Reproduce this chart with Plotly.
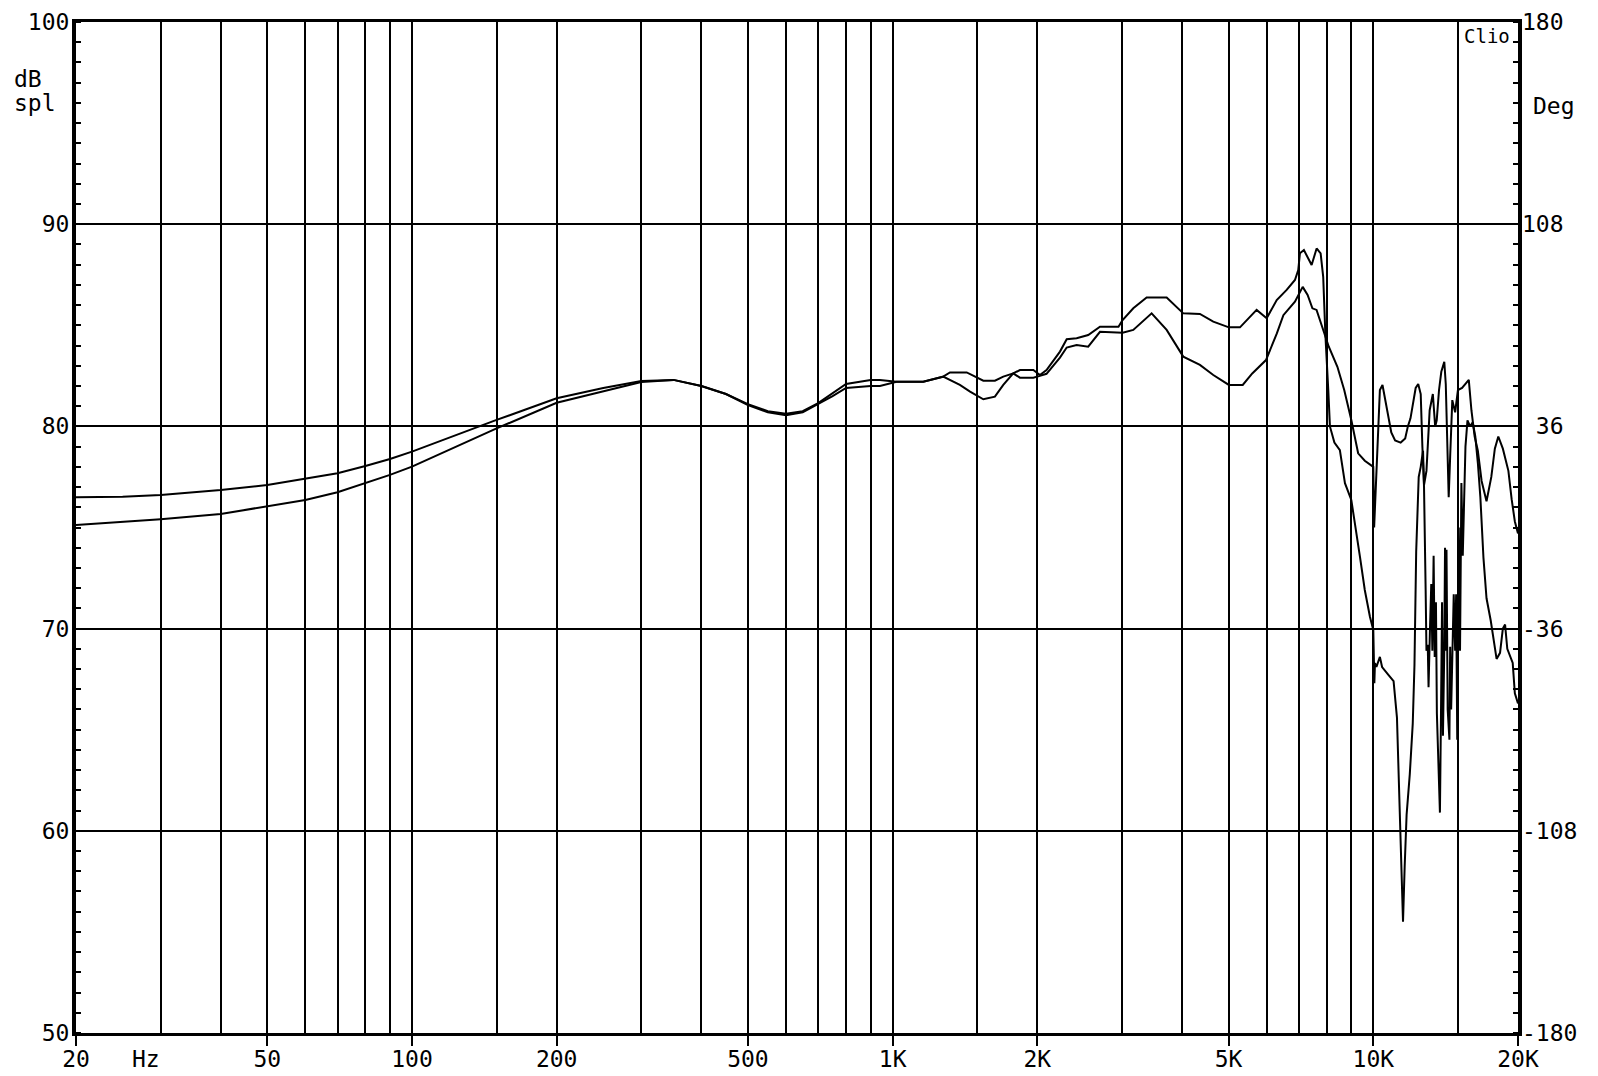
import math
import plotly.graph_objects as go

# ---------------- data ----------------
freq_a = [20, 25, 30, 40, 50, 60, 70, 80, 90, 100, 150, 200, 250, 300, 350, 400, 450, 500, 550, 600,
          650, 700, 750, 800, 900, 941, 1019, 1158, 1274, 1316, 1426, 1508, 1544, 1632, 1699, 1782,
          1840, 1962, 2025, 2090, 2229, 2302, 2414, 2552, 2700, 2950, 3009, 3167, 3376, 3716, 4024,
          4358, 4646, 5006, 5280, 5718, 6000, 6296, 6603, 6870, 6980, 7036, 7172, 7442, 7622, 7770,
          7866, 7950, 8000, 8060, 8124, 8300, 8520, 8730, 9000, 9190, 9380, 9600, 9840, 10000, 10050,
          10080, 10150, 10320, 10430, 10760, 11020, 11200, 11310, 11440, 11530, 11620, 11730, 11910,
          12080, 12180, 12280, 12430, 12550, 12690, 12750, 12850, 12900, 12980, 13030, 13120, 13200,
          13270, 13350, 13420, 13500, 13560, 13680, 13760, 13830, 13900, 13960, 14050, 14100, 14150,
          14200, 14280, 14400, 14450, 14520, 14600, 14700, 14800, 14870, 14950, 15060, 15150, 15250,
          15350, 15450, 15550, 15700, 15900, 16100, 16300, 16500, 16700, 16950, 17200, 17550, 17750,
          18050, 18350, 18600, 18800, 19000, 19500, 19700, 20000]
spl_a = [76.49, 76.52, 76.61, 76.85, 77.1, 77.4, 77.68, 78.04, 78.39, 78.75, 80.32, 81.39, 81.9, 82.25,
         82.3, 82.0, 81.6, 81.1, 80.75, 80.62, 80.75, 81.15, 81.65, 82.1, 82.3, 82.29, 82.21, 82.21,
         82.46, 82.67, 82.67, 82.38, 82.26, 82.26, 82.46, 82.62, 82.79, 82.79, 82.54, 82.79, 83.7,
         84.31, 84.36, 84.52, 84.93, 84.93, 85.26, 85.84, 86.38, 86.37, 85.59, 85.56, 85.18, 84.9,
         84.9, 85.76, 85.35, 86.25, 86.75, 87.24, 87.73, 88.56, 88.72, 87.98, 88.8, 88.56, 87.4, 84.5,
         82.9, 81.8, 80.0, 79.2, 78.83, 77.19, 76.36, 75.04, 73.56, 71.91, 70.59, 69.93, 67.3, 68.3,
         68.1, 68.6, 68.1, 67.7, 67.4, 65.6, 62.5, 58.2, 55.5, 58.2, 60.8, 62.8, 65.3, 68.2, 73.8,
         77.5, 78.0, 78.8, 77.0, 71.9, 68.9, 69.2, 67.1, 70.0, 72.2, 68.9, 73.6, 68.6, 71.3, 65.8,
         62.5, 60.9, 65.8, 71.3, 64.7, 69.0, 74.0, 68.9, 73.9, 66.0, 64.5, 69.1, 66.0, 68.9, 71.7,
         68.9, 71.7, 64.5, 75.0, 68.9, 77.2, 73.6, 77.2, 79.0, 80.3, 80.0, 80.2, 79.5, 78.2, 76.5,
         73.5, 71.5, 70.4, 69.6, 68.5, 68.8, 70.0, 70.2, 69.0, 68.3, 66.8, 66.3]

freq_b = [20, 25, 30, 40, 50, 60, 70, 80, 90, 100, 150, 200, 250, 300, 350, 400, 450, 500, 550, 600,
          650, 700, 750, 800, 900, 941, 1019, 1158, 1274, 1380, 1449, 1544, 1632, 1699, 1782, 1840,
          1962, 2025, 2090, 2229, 2302, 2414, 2552, 2700, 3009, 3167, 3376, 3458, 3716, 4024, 4358,
          4646, 5006, 5350, 5600, 5980, 6300, 6500, 6870, 7130, 7300, 7470, 7620, 7870, 8080, 8420,
          8700, 9000, 9170, 9300, 9600, 10000, 10040, 10080, 10200, 10320, 10450, 10600, 10750,
          10900, 11100, 11400, 11650, 11800, 11950, 12100, 12250, 12400, 12550, 12650, 12750, 12900,
          13000, 13100, 13300, 13450, 13550, 13700, 13850, 14050, 14150, 14250, 14350, 14450, 14600,
          14800, 15000, 15300, 15550, 15800, 16000, 16250, 16500, 16800, 17200, 17600, 17900, 18200,
          18600, 19100, 19400, 19700, 20000]
spl_b = [75.12, 75.29, 75.41, 75.67, 76.03, 76.36, 76.74, 77.19, 77.6, 78.01, 79.9, 81.17, 81.75, 82.2,
         82.3, 82.0, 81.6, 81.05, 80.7, 80.55, 80.7, 81.1, 81.5, 81.9, 82.0, 82.0, 82.21, 82.21,
         82.46, 82.05, 81.72, 81.34, 81.47, 82.05, 82.62, 82.41, 82.41, 82.5, 82.6, 83.4, 83.9,
         84.03, 83.94, 84.68, 84.63, 84.77, 85.4, 85.59, 84.77, 83.45, 83.04, 82.54, 82.05, 82.05,
         82.62, 83.28, 84.6, 85.5, 86.17, 86.9, 86.5, 85.84, 85.76, 84.77, 83.94, 82.95, 81.8, 80.32,
         79.33, 78.67, 78.3, 78.0, 75.0, 76.0, 79.5, 81.8, 82.05, 81.3, 80.4, 79.7, 79.3, 79.2, 79.4,
         80.0, 80.4, 81.2, 81.9, 82.1, 81.6, 79.0, 77.1, 77.8, 79.6, 80.8, 81.6, 80.0, 80.3, 81.8,
         82.7, 83.2, 82.1, 79.3, 76.5, 78.5, 81.3, 80.7, 81.8, 81.9, 82.1, 82.3, 80.8, 79.5, 78.8,
         77.3, 76.3, 77.5, 78.9, 79.5, 78.9, 77.8, 76.4, 75.3, 74.7]

x_label_vals = [20, 50, 100, 200, 500, 1000, 2000, 5000, 10000, 20000]
x_label_text = ["20", "50", "100", "200", "500", "1K", "2K", "5K", "10K", "20K"]
x_minor_grid = [30, 40, 60, 70, 80, 90, 150, 300, 400, 600, 700, 800, 900, 1500,
                3000, 4000, 6000, 7000, 8000, 9000, 15000]
y_label_vals = [50, 60, 70, 80, 90, 100]
y_label_text = ["50", "60", "70", "80", "90", "100"]
deg_vals = [-180, -108, -36, 36, 108, 180]
deg_text = ["-180", "-108", "-36", "\u00a036", "108", "180"]

# ---------------- figure ----------------
W, H = 1598, 1076
ML, MR, MT, MB = 76, 80, 22, 43
FONT = "DejaVu Sans Mono"
tickfont = dict(family=FONT, size=23, color="black")

fig = go.Figure()
fig.add_trace(go.Scatter(x=freq_a, y=spl_a, mode="lines",
                         line=dict(color="black", width=2), hoverinfo="skip", showlegend=False))
fig.add_trace(go.Scatter(x=freq_b, y=spl_b, mode="lines",
                         line=dict(color="black", width=2), hoverinfo="skip", showlegend=False))
fig.add_trace(go.Scatter(x=[1000], y=[0], yaxis="y2", mode="markers",
                         marker=dict(opacity=0), hoverinfo="skip", showlegend=False))

fig.update_layout(
    width=W, height=H, autosize=False,
    margin=dict(l=ML, r=MR, t=MT, b=MB, pad=0),
    paper_bgcolor="white", plot_bgcolor="white",
    showlegend=False,
    xaxis=dict(
        type="log", range=[math.log10(20), math.log10(20000)],
        tickmode="array", tickvals=x_label_vals, ticktext=x_label_text,
        ticks="outside", ticklen=10, tickwidth=2, tickcolor="black",
        showgrid=True, gridcolor="black", gridwidth=2,
        minor=dict(tickmode="array", tickvals=x_minor_grid, showgrid=True,
                   gridcolor="black", gridwidth=2, ticks=""),
        showline=True, linecolor="black", linewidth=3, mirror=True,
        zeroline=False, tickfont=tickfont, ticklabelstandoff=-7, automargin=False,
    ),
    yaxis=dict(
        range=[50, 100], tickmode="array", tickvals=y_label_vals, ticktext=y_label_text,
        ticks="", showgrid=True, gridcolor="black", gridwidth=2,
        minor=dict(tickmode="linear", tick0=50, dtick=1, ticks="inside", ticklen=5,
                   tickwidth=2, tickcolor="black", showgrid=False),
        showline=True, linecolor="black", linewidth=4, mirror=True,
        zeroline=False, tickfont=tickfont, ticklabelstandoff=-2, automargin=False,
    ),
    yaxis2=dict(
        overlaying="y", side="right", range=[-180, 180],
        tickmode="array", tickvals=deg_vals, ticktext=deg_text,
        ticks="", showgrid=False,
        minor=dict(tickmode="linear", tick0=-180, dtick=7.2, ticks="inside", ticklen=5,
                   tickwidth=2, tickcolor="black", showgrid=False),
        showline=False, zeroline=False, tickfont=tickfont, ticklabelstandoff=3,
        automargin=False,
    ),
)

pw = W - ML - MR
ph = H - MT - MB


def px(xp):
    return (xp - ML) / pw


def py(yp):
    return 1 - (yp - MT) / ph


annfont = dict(family=FONT, size=23, color="black")
fig.add_annotation(text="dB", xref="paper", yref="paper", x=px(12), y=py(79),
                   xanchor="left", yanchor="middle", showarrow=False, font=annfont)
fig.add_annotation(text="spl", xref="paper", yref="paper", x=px(12), y=py(103),
                   xanchor="left", yanchor="middle", showarrow=False, font=annfont)
fig.add_annotation(text="Deg", xref="paper", yref="paper", x=px(1531), y=py(106),
                   xanchor="left", yanchor="middle", showarrow=False, font=annfont)
fig.add_annotation(text="Hz", xref="paper", yref="paper", x=px(146), y=py(1059),
                   xanchor="center", yanchor="middle", showarrow=False, font=annfont)
fig.add_annotation(text="Clio", xref="paper", yref="paper", x=px(1462), y=py(36),
                   xanchor="left", yanchor="middle", showarrow=False,
                   font=dict(family=FONT, size=19, color="black"))

fig.write_html("out.html", config={"displayModeBar": False},
               post_script="document.body.style.margin='0';document.body.style.overflow='hidden';")
